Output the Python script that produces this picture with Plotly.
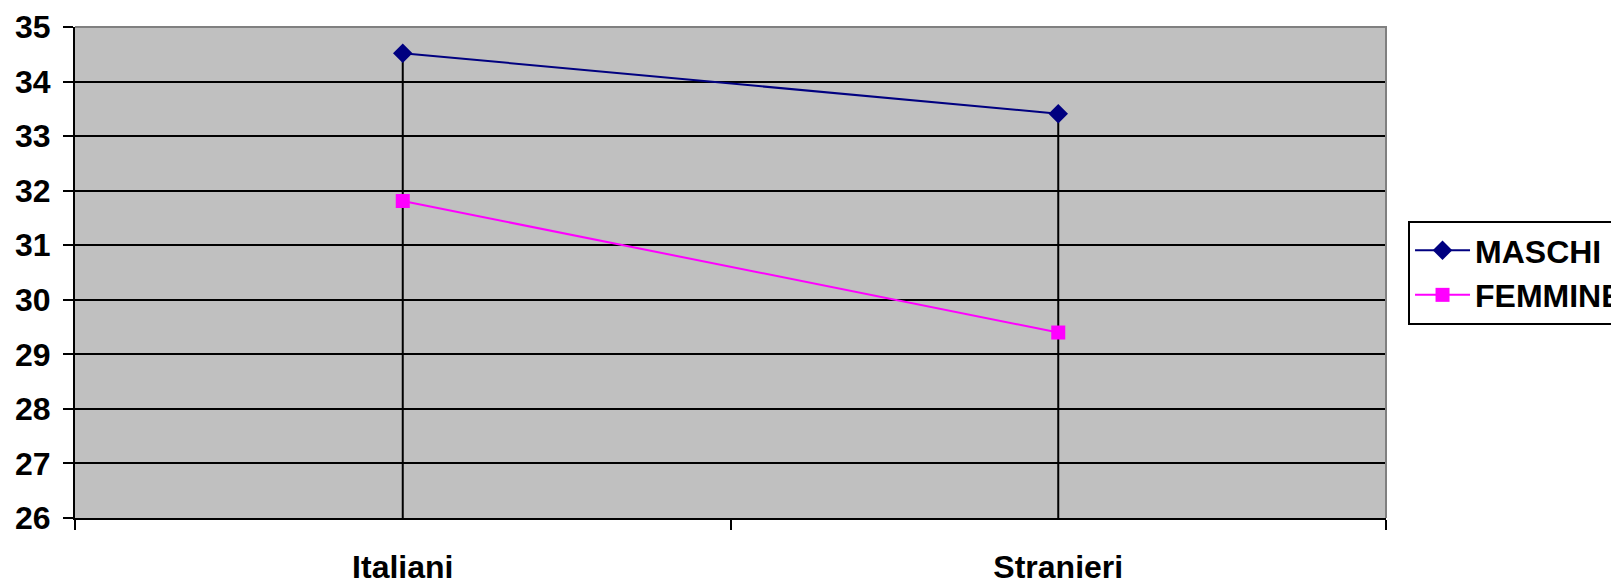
import plotly.graph_objects as go

categories = ["Italiani", "Stranieri"]
maschi = [34.52, 33.41]
femmine = [31.81, 29.40]
y_ticks = list(range(26, 36))

y_min, y_max = y_ticks[0], y_ticks[-1]
FONT = "Liberation Sans, Arial, sans-serif"

# drop lines from the highest point of each category down to the axis
drop_x, drop_y = [], []
for c, m, f in zip(categories, maschi, femmine):
    drop_x += [c, c, None]
    drop_y += [y_min, max(m, f), None]

fig = go.Figure()
fig.add_trace(go.Scatter(
    x=drop_x, y=drop_y, mode="lines",
    line=dict(color="black", width=2),
    showlegend=False, hoverinfo="skip",
))
fig.add_trace(go.Scatter(
    x=categories, y=maschi, name="MASCHI", mode="lines+markers",
    line=dict(color="#000080", width=2),
    marker=dict(symbol="diamond", size=15, color="#000080"),
))
fig.add_trace(go.Scatter(
    x=categories, y=femmine, name="FEMMINE", mode="lines+markers",
    line=dict(color="#FF00FF", width=2),
    marker=dict(symbol="square", size=14, color="#FF00FF"),
))

fig.add_shape(
    type="path", xref="paper", yref="paper",
    path="M 0 1 L 1 1 L 1 0",
    line=dict(color="#808080", width=2), layer="above",
)

# the page body has an 8px margin, so the figure is 8px smaller than the window
fig.update_layout(
    width=1611,
    height=571,
    margin=dict(l=67, r=233, t=19, b=61, autoexpand=False),
    paper_bgcolor="white",
    plot_bgcolor="#C0C0C0",
    font=dict(family=FONT, color="black"),
    xaxis=dict(
        type="category",
        automargin=False,
        range=[-0.5, len(categories) - 0.5],
        tickson="boundaries",
        ticks="outside", ticklen=10, tickwidth=2, tickcolor="black",
        showline=True, linecolor="black", linewidth=2,
        showgrid=False,
        tickfont=dict(size=32, weight="bold"),
        ticklabelstandoff=20,
    ),
    yaxis=dict(
        automargin=False,
        range=[y_min, y_max],
        tickvals=y_ticks,
        ticks="outside", ticklen=10, tickwidth=2, tickcolor="black",
        showline=True, linecolor="black", linewidth=2,
        gridcolor="black", gridwidth=2,
        zeroline=False,
        tickfont=dict(size=32, weight="bold"),
        ticklabelstandoff=6,
    ),
    legend=dict(
        x=1.0168, y=0.605, xanchor="left", yanchor="top",
        bgcolor="white", bordercolor="black", borderwidth=2,
        font=dict(size=32, weight="bold"),
        itemwidth=55,
    ),
)

fig.write_html("out.html")
